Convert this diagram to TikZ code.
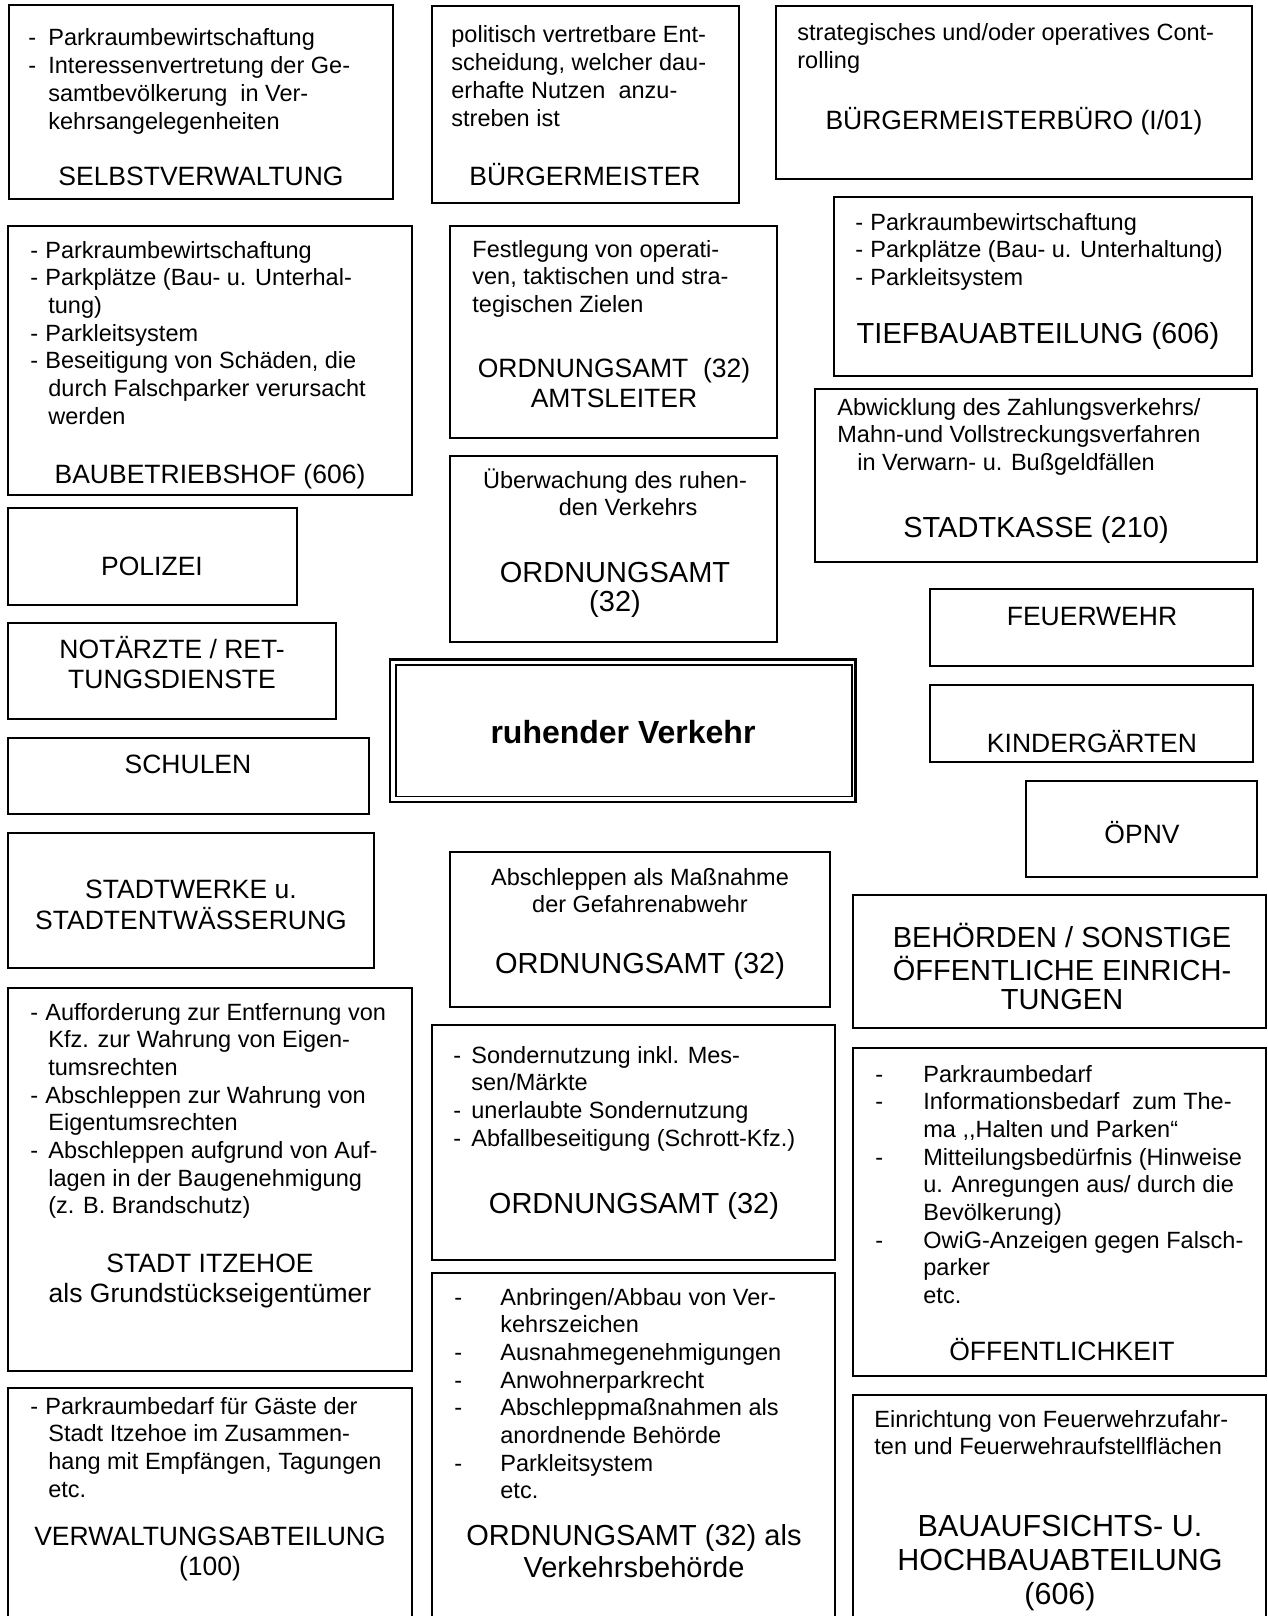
\documentclass[tikz,border=0pt]{standalone}
\usepackage{fontspec}
\setmainfont{Liberation Sans}
\usetikzlibrary{fit}

\newcommand{\bodyfont}{\fontsize{11.75pt}{13.85pt}\selectfont}
\newcommand{\ttlfont}{\fontsize{13.25pt}{15.25pt}\selectfont}
\newcommand{\bigttlfont}{\fontsize{14.5pt}{14.75pt}\selectfont}
\newcommand{\hugettlfont}{\fontsize{15.25pt}{17pt}\selectfont}
\newcommand{\leftlines}[1]{\begin{tabular}[t]{@{}l@{}}#1\end{tabular}}
\newcommand{\midlines}[1]{\begin{tabular}[t]{@{}c@{}}#1\end{tabular}}
\newcommand{\dashitem}[1]{\makebox[#1][l]{-}}

\begin{document}
\begin{tikzpicture}[
  x=0.5pt, y=-0.5pt,
  every node/.style={font=\bodyfont},
  box/.style={draw, inner sep=0pt, line width=0.9pt},
  outerbox/.style={draw, inner sep=0pt, line width=1.35pt},
  innerbox/.style={draw, inner sep=0pt, line width=0.85pt},
  txt/.style={anchor=base west, inner sep=0pt},
  ctxt/.style={anchor=base, inner sep=0pt},
  ttl/.style={anchor=base, inner sep=0pt, font=\ttlfont},
  bigttl/.style={anchor=base, inner sep=0pt, font=\bigttlfont},
  hugettl/.style={anchor=base, inner sep=0pt, font=\hugettlfont}
]
\path[use as bounding box, fill=white] (0,0) rectangle (1268,1616);

% Top row: Selbstverwaltung, Buergermeister, Buergermeisterbuero
\node[box, fit={(9,5) (393,199)}] (selb) {};
\node[txt] (selbtxt) at (28,46) {\leftlines{\dashitem{10pt}Parkraumbewirtschaftung\\
  \dashitem{10pt}Interessenvertretung der Ge-\\
  \hspace*{10pt}samtbevölkerung\ \ in Ver-\\
  \hspace*{10pt}kehrsangelegenheiten}};
\node[ttl] (selbttl) at (201,185) {SELBSTVERWALTUNG};

\node[box, fit={(432,6) (739,203)}] (bgm) {};
\node[txt] (bgmtxt) at (451,43) {\leftlines{politisch vertretbare Ent-\\
  scheidung, welcher dau-\\
  erhafte Nutzen\ \ anzu-\\
  streben ist}};
\node[ttl] (bgmttl) at (585,185) {BÜRGERMEISTER};

\node[box, fit={(776,6) (1252,179)}] (bgmb) {};
\node[txt] (bgmbtxt) at (797,41) {\leftlines{strategisches und/oder operatives Cont-\\ rolling}};
\node[ttl] (bgmbttl) at (1014,130) {BÜRGERMEISTERBÜRO (I/01)};

% Second row: Baubetriebshof, Amtsleiter, Tiefbau
\node[box, fit={(8,226) (412,495)}] (bbh) {};
\node[txt] (bbhtxt) at (30,258) {\leftlines{\dashitem{7.5pt}Parkraumbewirtschaftung\\
  \dashitem{7.5pt}Parkplätze (Bau- u. Unterhal-\\
  \hspace*{9pt}tung)\\
  \dashitem{7.5pt}Parkleitsystem\\
  \dashitem{7.5pt}Beseitigung von Schäden, die\\
  \hspace*{9pt}durch Falschparker verursacht\\
  \hspace*{9pt}werden}};
\node[ttl] (bbhttl) at (210,483) {BAUBETRIEBSHOF (606)};

\node[box, fit={(450,226) (777,438)}] (oal) {};
\node[txt] (oaltxt) at (472,257) {\leftlines{Festlegung von operati-\\
  ven, taktischen und stra-\\
  tegischen Zielen}};
\node[ttl] (oalttl) at (614,377) {\midlines{ORDNUNGSAMT\ \ (32)\\ AMTSLEITER}};

\node[box, fit={(834,197) (1252,376)}] (tief) {};
\node[txt] (tieftxt) at (855,230) {\leftlines{\dashitem{7.5pt}Parkraumbewirtschaftung\\
  \dashitem{7.5pt}Parkplätze (Bau- u. Unterhaltung)\\
  \dashitem{7.5pt}Parkleitsystem}};
\node[bigttl] (tiefttl) at (1038,343) {TIEFBAUABTEILUNG (606)};

% Middle: Polizei, Ueberwachung, Stadtkasse
\node[box, fit={(8,508) (297,605)}] (pol) {};
\node[ttl] (polttl) at (152,575) {POLIZEI};

\node[box, fit={(450,456) (777,642)}] (oau) {};
\node[ctxt] (oautxt) at (615,488) {\midlines{Überwachung des ruhen-\\ \ \ \ \ den Verkehrs}};
\node[bigttl] (oauttl) at (615,582) {\midlines{ORDNUNGSAMT\\ (32)}};

\node[box, fit={(815,389) (1257,562)}] (kasse) {};
\node[txt] (kassetxt) at (837,415) {\leftlines{Abwicklung des Zahlungsverkehrs/\\
  Mahn-und Vollstreckungsverfahren\\
  \hspace*{10pt}in Verwarn- u. Bußgeldfällen}};
\node[bigttl] (kassettl) at (1036,537) {STADTKASSE (210)};

\node[box, fit={(930,589) (1253,666)}] (feu) {};
\node[ttl] (feuttl) at (1092,625) {FEUERWEHR};

\node[box, fit={(930,685) (1253,762)}] (kita) {};
\node[ttl] (kitattl) at (1092,752) {KINDERGÄRTEN};

% Centre: ruhender Verkehr (double frame)
\node[outerbox, fit={(390,659.5) (855.6,802)}] (rvouter) {};
\node[innerbox, fit={(395.9,664.8) (851.9,796.5)}] (rv) {};
\node[ctxt, font=\fontsize{16pt}{19pt}\selectfont\bfseries] (rvttl) at (623,743) {ruhender Verkehr};

% Left column below Polizei
\node[box, fit={(8,623) (336,719)}] (not) {};
\node[ttl] (notttl) at (172,658) {\midlines{NOTÄRZTE / RET-\\ TUNGSDIENSTE}};

\node[box, fit={(8,738) (369,814)}] (schule) {};
\node[ttl] (schulettl) at (188,773) {SCHULEN};

\node[box, fit={(8,833) (374,968)}] (swerk) {};
\node[ttl] (swerkttl) at (191,898) {\midlines{STADTWERKE u.\\ STADTENTWÄSSERUNG}};

% Right column: OePNV, Behoerden
\node[box, fit={(1026,781) (1257,877)}] (oepnv) {};
\node[ttl] (oepnvttl) at (1142,843) {ÖPNV};

\node[box, fit={(853,895) (1266,1028)}] (behoerde) {};
\node[bigttl] (behoerdettl) at (1062,947) {\midlines{BEHÖRDEN / SONSTIGE\\ ÖFFENTLICHE EINRICH-\\ TUNGEN}};

% Abschleppen (Gefahrenabwehr)
\node[box, fit={(450,852) (830,1007)}] (abschl) {};
\node[ctxt] (abschltxt) at (640,885) {\midlines{Abschleppen als Maßnahme\\ der Gefahrenabwehr}};
\node[bigttl] (abschlttl) at (640,973) {ORDNUNGSAMT (32)};

% Lower row: Stadt Itzehoe, Sondernutzung, Oeffentlichkeit
\node[box, fit={(8,988) (412,1371)}] (stadt) {};
\node[txt] (stadttxt) at (30,1020) {\leftlines{\dashitem{7.5pt}Aufforderung zur Entfernung von\\
  \hspace*{9pt}Kfz. zur Wahrung von Eigen-\\
  \hspace*{9pt}tumsrechten\\
  \dashitem{7.5pt}Abschleppen zur Wahrung von\\
  \hspace*{9pt}Eigentumsrechten\\
  \dashitem{9pt}Abschleppen aufgrund von Auf-\\
  \hspace*{9pt}lagen in der Baugenehmigung\\
  \hspace*{9pt}(z. B. Brandschutz)}};
\node[ttl] (stadtttl) at (210,1272) {\midlines{STADT ITZEHOE\\ als Grundstückseigentümer}};

\node[box, fit={(432,1025) (835,1260)}] (sonder) {};
\node[txt] (sondertxt) at (453,1063) {\leftlines{\dashitem{9pt}Sondernutzung inkl. Mes-\\
  \hspace*{9pt}sen/Märkte\\
  \dashitem{9pt}unerlaubte Sondernutzung\\
  \dashitem{9pt}Abfallbeseitigung (Schrott-Kfz.)}};
\node[bigttl] (sonderttl) at (634,1213) {ORDNUNGSAMT (32)};

\node[box, fit={(853,1048) (1266,1376)}] (oeff) {};
\node[txt] (oefftxt) at (875,1082) {\leftlines{\dashitem{24pt}Parkraumbedarf\\
  \dashitem{24pt}Informationsbedarf\ \ zum The-\\
  \hspace*{24pt}ma ,\kern0pt,Halten und Parken“\\
  \dashitem{24pt}Mitteilungsbedürfnis (Hinweise\\
  \hspace*{24pt}u. Anregungen aus/ durch die\\
  \hspace*{24pt}Bevölkerung)\\
  \dashitem{24pt}OwiG-Anzeigen gegen Falsch-\\
  \hspace*{24pt}parker\\
  \hspace*{24pt}etc.}};
\node[ttl] (oeffttl) at (1062,1360) {ÖFFENTLICHKEIT};

% Bottom row: Verwaltungsabteilung, Verkehrsbehoerde, Bauaufsicht
\node[box, fit={(8,1388) (412,1630)}] (verw) {};
\node[txt] (verwtxt) at (30,1414) {\leftlines{\dashitem{7.5pt}Parkraumbedarf für Gäste der\\
  \hspace*{9pt}Stadt Itzehoe im Zusammen-\\
  \hspace*{9pt}hang mit Empfängen, Tagungen\\
  \hspace*{9pt}etc.}};
\node[ttl] (verwttl) at (210,1545) {\midlines{VERWALTUNGSABTEILUNG\\ (100)}};

\node[box, fit={(432,1273) (835,1630)}] (vbeh) {};
\node[txt] (vbehtxt) at (454,1305) {\leftlines{\dashitem{23pt}Anbringen/Abbau von Ver-\\
  \hspace*{23pt}kehrszeichen\\
  \dashitem{23pt}Ausnahmegenehmigungen\\
  \dashitem{23pt}Anwohnerparkrecht\\
  \dashitem{23pt}Abschleppmaßnahmen als\\
  \hspace*{23pt}anordnende Behörde\\
  \dashitem{23pt}Parkleitsystem\\
  \hspace*{23pt}etc.}};
\node[bigttl] (vbehttl) at (634,1545) {\midlines{ORDNUNGSAMT (32) als\\[1.2pt] Verkehrsbehörde}};

\node[box, fit={(853,1395) (1266,1630)}] (bauauf) {};
\node[txt] (bauauftxt) at (874,1427) {\leftlines{Einrichtung von Feuerwehrzufahr-\\
  ten und Feuerwehraufstellflächen}};
\node[hugettl] (bauaufttl) at (1060,1536) {\midlines{BAUAUFSICHTS- U.\\ HOCHBAUABTEILUNG\\ (606)}};
\end{tikzpicture}
\end{document}
